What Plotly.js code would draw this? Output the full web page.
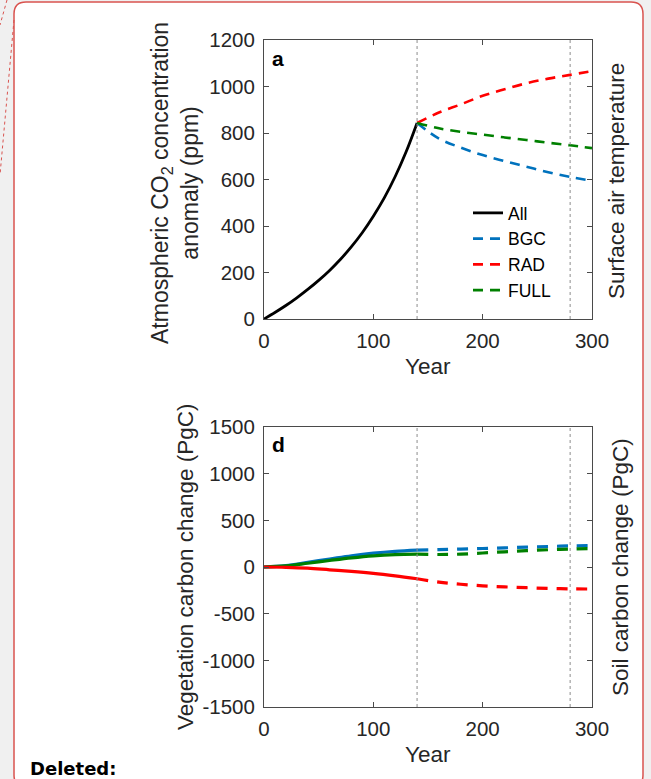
<!DOCTYPE html>
<html>
<head>
<meta charset="utf-8">
<script src="https://cdn.plot.ly/plotly-3.0.1.min.js"></script>
<style>
html,body{margin:0;padding:0;background:#f0f0f0;}
#chart{width:651px;height:779px;}
</style>
</head>
<body>
<div id="chart"></div>
<script>
// ---------- data ----------
// Panel a: atmospheric CO2 concentration anomaly (ppm)
var yearsRamp = [0, 10, 20, 30, 40, 50, 60, 70, 80, 90, 100, 110, 120, 130, 140];
var co2All    = [0, 28, 58, 91, 127, 166, 209, 257, 311, 372, 442, 521, 613, 719, 843];
var yearsPost = [140, 160, 180, 200, 220, 240, 260, 280, 300];
var co2BGC    = [843, 776, 737, 705, 679, 655, 631, 611, 594];
var co2RAD    = [843, 888, 923, 960, 988, 1014, 1034, 1050, 1066];
var co2FULL   = [843, 820, 805, 793, 781, 770, 758, 747, 735];

// Panel d: vegetation carbon change (PgC)
var yearsVegRamp = [0, 20, 40, 60, 80, 100, 120, 140];
var vegBGCRamp   = [0, 15, 50, 85, 120, 148, 168, 181];
var vegFULLRamp  = [0, 12, 40, 70, 98, 120, 133, 138];
var vegRADRamp   = [0, -3, -12, -30, -47, -68, -95, -126];
var yearsVegPost = [140, 160, 180, 200, 220, 240, 260, 280, 300];
var vegBGCPost   = [181, 186, 192, 198, 205, 213, 220, 226, 230];
var vegFULLPost  = [138, 134, 138, 150, 163, 175, 185, 192, 197];
var vegRADPost   = [-126, -162, -185, -202, -213, -222, -229, -234, -236];

// markers (vertical dotted lines)
var markerYears = [140, 280];

// tick labels
var xTickVals  = [0, 100, 200, 300];
var xTickText  = ['0', '100', '200', '300'];
var yaTickVals = [0, 200, 400, 600, 800, 1000, 1200];
var yaTickText = ['0', '200', '400', '600', '800', '1000', '1200'];
var ydTickVals = [-1500, -1000, -500, 0, 500, 1000, 1500];
var ydTickText = ['-1500', '-1000', '-500', '0', '500', '1000', '1500'];

// series names / colours
var names  = ['All', 'BGC', 'RAD', 'FULL'];
var colBlack = '#000000', colBlue = '#0072BD', colRed = '#FF0000', colGreen = '#008000';

// ---------- helpers ----------
var W = 651, H = 779;
function px(x){ return x / W; }
function py(y){ return 1 - y / H; }

var FONT = 'Liberation Sans, Arial, Helvetica, sans-serif';
var TXT = '#262626';
var dashA = '10px,7px';
var dashD = '11px,9px';

var traces = [
  {x: yearsRamp, y: co2All, name: names[0], mode: 'lines', line: {color: colBlack, width: 2.8, shape: 'spline'}, xaxis: 'x', yaxis: 'y'},
  {x: yearsPost, y: co2BGC, name: names[1], mode: 'lines', line: {color: colBlue, width: 2.6, dash: dashA, shape: 'spline'}, xaxis: 'x', yaxis: 'y'},
  {x: yearsPost, y: co2RAD, name: names[2], mode: 'lines', line: {color: colRed, width: 2.6, dash: dashA, shape: 'spline'}, xaxis: 'x', yaxis: 'y'},
  {x: yearsPost, y: co2FULL, name: names[3], mode: 'lines', line: {color: colGreen, width: 2.6, dash: dashA, shape: 'spline'}, xaxis: 'x', yaxis: 'y'},

  {x: yearsVegRamp, y: vegBGCRamp, name: 'BGC', showlegend: false, mode: 'lines', line: {color: colBlue, width: 3.2, shape: 'spline'}, xaxis: 'x2', yaxis: 'y2'},
  {x: yearsVegRamp, y: vegFULLRamp, name: 'FULL', showlegend: false, mode: 'lines', line: {color: colGreen, width: 3.2, shape: 'spline'}, xaxis: 'x2', yaxis: 'y2'},
  {x: yearsVegRamp, y: vegRADRamp, name: 'RAD', showlegend: false, mode: 'lines', line: {color: colRed, width: 3.2, shape: 'spline'}, xaxis: 'x2', yaxis: 'y2'},
  {x: yearsVegPost, y: vegBGCPost, name: 'BGC', showlegend: false, mode: 'lines', line: {color: colBlue, width: 3.2, dash: dashD, shape: 'spline'}, xaxis: 'x2', yaxis: 'y2'},
  {x: yearsVegPost, y: vegFULLPost, name: 'FULL', showlegend: false, mode: 'lines', line: {color: colGreen, width: 3.2, dash: dashD, shape: 'spline'}, xaxis: 'x2', yaxis: 'y2'},
  {x: yearsVegPost, y: vegRADPost, name: 'RAD', showlegend: false, mode: 'lines', line: {color: colRed, width: 3.2, dash: dashD, shape: 'spline'}, xaxis: 'x2', yaxis: 'y2'}
];

function axisCommon(standoff){
  return {
    showgrid: false, zeroline: false,
    showline: true, linecolor: '#4a4a4a', linewidth: 1, mirror: 'ticks',
    ticks: 'inside', ticklen: 5, tickwidth: 1, tickcolor: '#4a4a4a',
    ticklabelstandoff: standoff,
    tickfont: {family: FONT, size: 20.5, color: TXT},
    fixedrange: true
  };
}

var xDom = [px(264), px(592)];
var xa = Object.assign(axisCommon(3), {domain: xDom, range: [0, 300], tickmode: 'array', tickvals: xTickVals, ticktext: xTickText, anchor: 'y'});
var ya = Object.assign(axisCommon(4), {domain: [py(319), py(40)], range: [0, 1200], tickmode: 'array', tickvals: yaTickVals, ticktext: yaTickText, anchor: 'x'});
var xd = Object.assign(axisCommon(3), {domain: xDom, range: [0, 300], tickmode: 'array', tickvals: xTickVals, ticktext: xTickText, anchor: 'y2'});
var yd = Object.assign(axisCommon(4), {domain: [py(707), py(427)], range: [-1500, 1500], tickmode: 'array', tickvals: ydTickVals, ticktext: ydTickText, anchor: 'x2'});

// rounded box path (paper coords)
var bx0 = px(14), bx1 = px(643), byT = py(2), byB = py(787);
var rx = 12 / W, ry = 12 / H;
var boxPath = 'M' + (bx0+rx) + ',' + byT + ' L' + (bx1-rx) + ',' + byT +
  ' Q' + bx1 + ',' + byT + ' ' + bx1 + ',' + (byT-ry) +
  ' L' + bx1 + ',' + (byB+ry) + ' Q' + bx1 + ',' + byB + ' ' + (bx1-rx) + ',' + byB +
  ' L' + (bx0+rx) + ',' + byB + ' Q' + bx0 + ',' + byB + ' ' + bx0 + ',' + (byB+ry) +
  ' L' + bx0 + ',' + (byT-ry) + ' Q' + bx0 + ',' + byT + ' ' + (bx0+rx) + ',' + byT + ' Z';

var shapes = [
  {type: 'path', xref: 'paper', yref: 'paper', path: boxPath, fillcolor: '#ffffff', line: {color: '#d9534f', width: 1.5}, layer: 'below'},
  {type: 'line', xref: 'paper', yref: 'paper', x0: px(7), y0: py(0), x1: px(0), y1: py(25), line: {color: '#d9534f', width: 1, dash: 'dot'}},
  {type: 'line', xref: 'paper', yref: 'paper', x0: px(14), y0: py(20), x1: px(0), y1: py(175), line: {color: '#d9534f', width: 1, dash: 'dot'}}
];
markerYears.forEach(function(yr){
  shapes.push({type: 'line', xref: 'x', yref: 'y domain', x0: yr, x1: yr, y0: 0, y1: 1, line: {color: '#8c8c8c', width: 1, dash: 'dot'}});
  shapes.push({type: 'line', xref: 'x2', yref: 'y2 domain', x0: yr, x1: yr, y0: 0, y1: 1, line: {color: '#8c8c8c', width: 1, dash: 'dot'}});
});

var titleFont = {family: FONT, size: 22.5, color: TXT};
var annotations = [
  {text: 'Atmospheric CO<sub>2</sub> concentration<br>anomaly (ppm)', textangle: -90, xref: 'paper', yref: 'paper', x: px(175), y: py(183), xanchor: 'center', yanchor: 'middle', showarrow: false, font: {family: FONT, size: 23, color: TXT}},
  {text: 'Year', xref: 'paper', yref: 'paper', x: px(428), y: py(366), xanchor: 'center', yanchor: 'middle', showarrow: false, font: titleFont},
  {text: 'Surface air temperature', textangle: -90, xref: 'paper', yref: 'paper', x: px(617), y: py(181), xanchor: 'center', yanchor: 'middle', showarrow: false, font: titleFont},
  {text: '<b>a</b>', xref: 'paper', yref: 'paper', x: px(278), y: py(58), xanchor: 'center', yanchor: 'middle', showarrow: false, font: {family: FONT, size: 21, color: '#000'}},

  {text: 'Vegetation carbon change (PgC)', textangle: -90, xref: 'paper', yref: 'paper', x: px(185), y: py(567), xanchor: 'center', yanchor: 'middle', showarrow: false, font: titleFont},
  {text: 'Year', xref: 'paper', yref: 'paper', x: px(428), y: py(754), xanchor: 'center', yanchor: 'middle', showarrow: false, font: titleFont},
  {text: 'Soil carbon change (PgC)', textangle: -90, xref: 'paper', yref: 'paper', x: px(620), y: py(567), xanchor: 'center', yanchor: 'middle', showarrow: false, font: titleFont},
  {text: '<b>d</b>', xref: 'paper', yref: 'paper', x: px(278), y: py(444), xanchor: 'center', yanchor: 'middle', showarrow: false, font: {family: FONT, size: 21, color: '#000'}},

  {text: '<b>Deleted:</b>', xref: 'paper', yref: 'paper', x: px(28), y: py(768), xanchor: 'left', yanchor: 'middle', showarrow: false, font: {family: 'DejaVu Sans, Verdana, sans-serif', size: 18, color: '#000'}}
];

var layout = {
  width: W, height: H,
  margin: {l: 0, r: 0, t: 0, b: 0, pad: 0},
  paper_bgcolor: '#f0f0f0',
  plot_bgcolor: 'rgba(0,0,0,0)',
  showlegend: true,
  legend: {x: px(468), y: py(195), xanchor: 'left', yanchor: 'top', bgcolor: 'rgba(0,0,0,0)', borderwidth: 0,
           font: {family: FONT, size: 17.5, color: '#000'}, tracegroupgap: 0, itemwidth: 30},
  xaxis: xa, yaxis: ya, xaxis2: xd, yaxis2: yd,
  shapes: shapes,
  annotations: annotations
};

Plotly.newPlot('chart', traces, layout, {displayModeBar: false, staticPlot: true});
</script>
</body>
</html>
